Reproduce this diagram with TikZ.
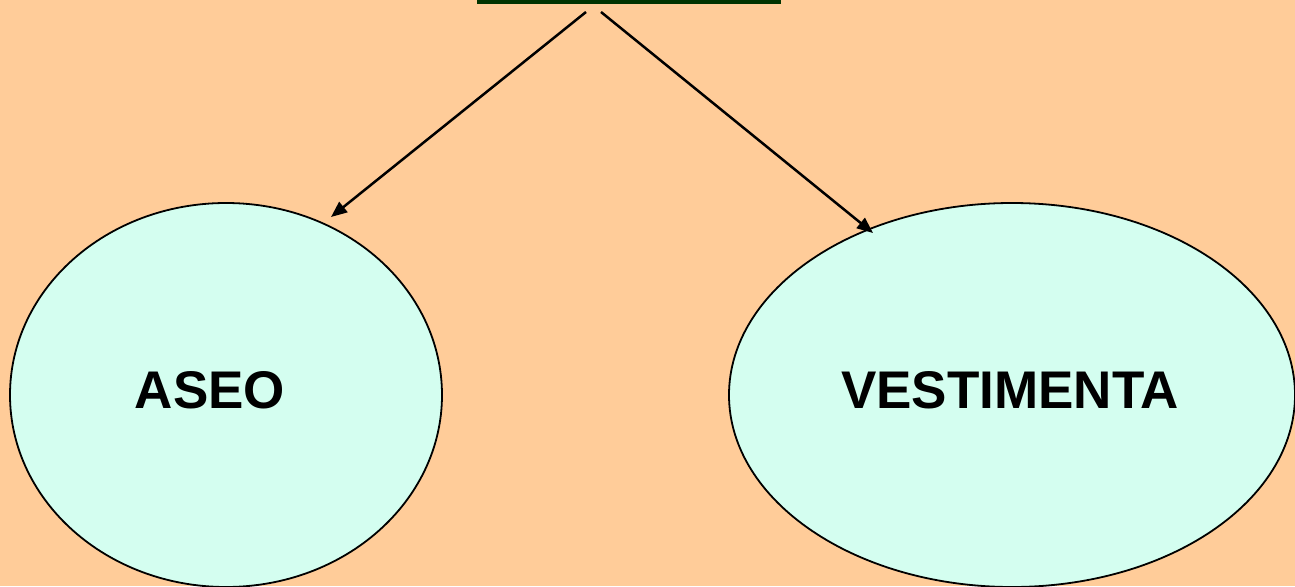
\documentclass[tikz,border=0pt]{standalone}
\usepackage{fontspec}
\setmainfont{Liberation Sans}
\usetikzlibrary{arrows.meta,shapes.geometric}
\definecolor{bg}{HTML}{FFCC99}
\definecolor{mint}{HTML}{D4FEF0}
\definecolor{dgreen}{HTML}{003300}
\tikzset{
  oval/.style={draw=black,line width=1.8pt,fill=mint,ellipse,inner sep=0pt},
  label/.style={font=\bfseries\fontsize{53}{60}\selectfont},
  link/.style={draw=black,line width=2.5pt,-{Triangle[length=16pt,width=13pt]}},
}
\begin{document}
\begin{tikzpicture}[x=1pt,y=-1pt]
\fill[bg] (0,0) rectangle (1295,586);
\useasboundingbox (0,0) rectangle (1295,586);
\begin{scope}
\clip (0,0) rectangle (1295,586);
\node[fill=dgreen,minimum width=304pt,minimum height=24pt,inner sep=0pt] (top) at (629,-8) {};
\node[oval,minimum width=432pt,minimum height=384pt] (aseo) at (226,395) {};
\node[oval,minimum width=566pt,minimum height=384pt] (vest) at (1012,395) {};
\end{scope}
\node[label] (aseot) at (210,390) {ASEO};
\node[label] (vestt) at (1010,390) {VESTIMENTA};
\coordinate (s1) at (586,12);
\coordinate (s2) at (601,12);
\coordinate (e1) at (331,217);
\coordinate (e2) at (873,233);
\draw[link] (s1) -- (e1);
\draw[link] (s2) -- (e2);
\end{tikzpicture}
\end{document}
